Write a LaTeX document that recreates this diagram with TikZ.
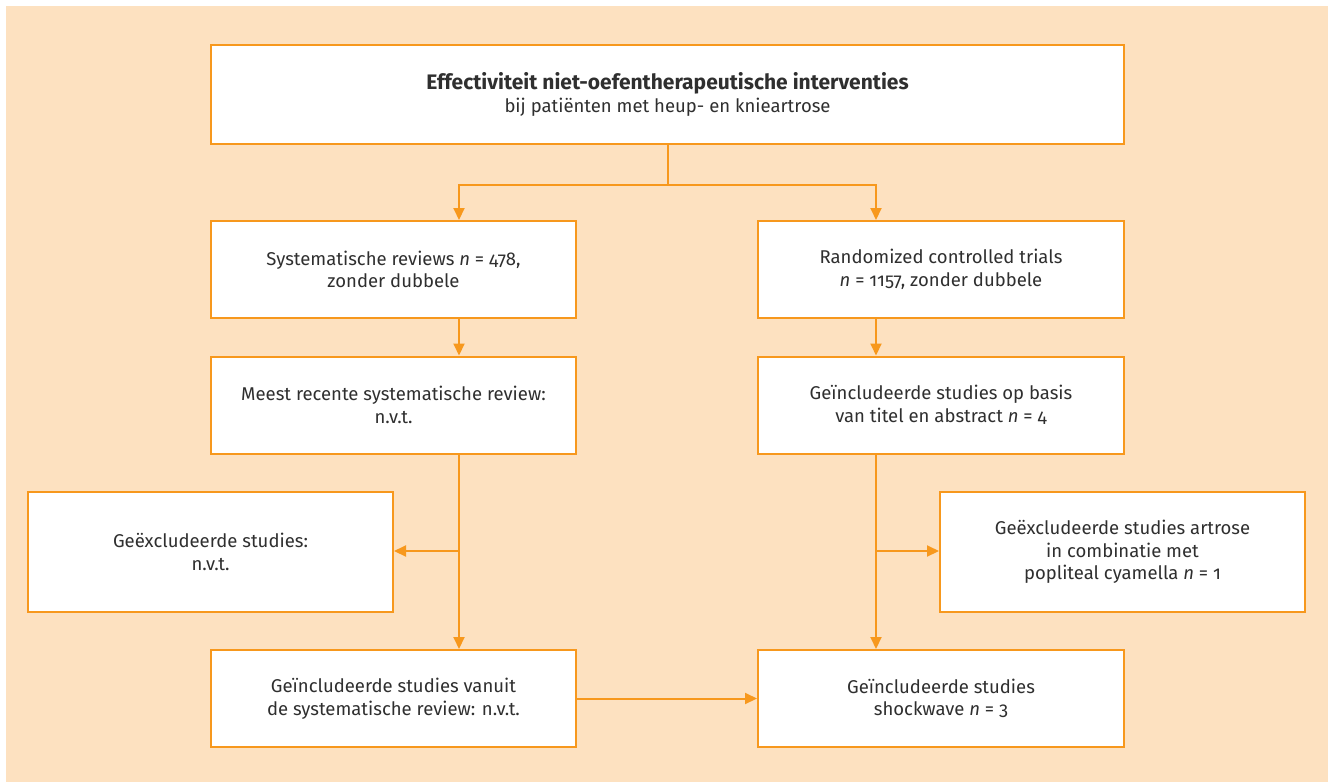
\documentclass[tikz,border=0pt]{standalone}
\usepackage{fontspec}
\setmainfont{Fira Sans}[Numbers=OldStyle]
\usetikzlibrary{arrows.meta}
\definecolor{flowline}{HTML}{F7981D}
\definecolor{panel}{HTML}{FDE1C0}
\definecolor{ink}{HTML}{2F2F2F}
\tikzset{
  flowbox/.style={draw=flowline, line width=2pt, fill=white, rectangle,
    align=center, text=ink, inner sep=0pt,
    font=\fontsize{18.5}{22.5}\selectfont},
  flowarrow/.style={draw=flowline, line width=2pt,
    -{Triangle[length=12pt,width=11pt]}},
  flowlink/.style={draw=flowline, line width=2pt},
}
\begin{document}
\begin{tikzpicture}[x=1pt,y=-1pt]
\useasboundingbox (0,0) rectangle (1328,782);
\fill[panel] (6,6) rectangle (1328,782);

% main box
\node[flowbox, minimum width=913pt, minimum height=99pt] (top) at (667.5,94.5)
  {{\fontsize{21}{24}\selectfont\bfseries Effectiviteit niet-oefentherapeutische interventies}\\bij patiënten met heup- en knieartrose};

% left column
\node[flowbox, minimum width=365pt, minimum height=97pt] (sr) at (393.5,269.5)
  {Systematische reviews \textit{n} = 478,\\zonder dubbele};
\node[flowbox, minimum width=365pt, minimum height=97pt] (recent) at (393.5,405)
  {Meest recente systematische review:\\n.v.t.};
\node[flowbox, minimum width=365pt, minimum height=120pt] (exl) at (210.5,552)
  {Geëxcludeerde studies:\\n.v.t.};
\node[flowbox, minimum width=365pt, minimum height=97pt] (incl) at (393.5,698.5)
  {Geïncludeerde studies vanuit\\de systematische review: n.v.t.};

% right column
\node[flowbox, minimum width=366pt, minimum height=97pt] (rct) at (941,269.5)
  {Randomized controlled trials\\\textit{n} = 1157, zonder dubbele};
\node[flowbox, minimum width=366pt, minimum height=97pt] (title) at (941,405)
  {Geïncludeerde studies op basis\\van titel en abstract \textit{n} = 4};
\node[flowbox, minimum width=365pt, minimum height=120pt] (exr) at (1122.5,552)
  {Geëxcludeerde studies artrose\\in combinatie met\\popliteal cyamella \textit{n} = 1};
\node[flowbox, minimum width=366pt, minimum height=97pt] (incr) at (941,698.5)
  {Geïncludeerde studies\\shockwave \textit{n} = 3};

% column guides and branch points
\coordinate (colL) at (459,0);
\coordinate (colR) at (876,0);
\coordinate (split) at (668,185);
\coordinate (brL) at (459,551);
\coordinate (brR) at (876,551);

\draw[flowlink] (top.south -| split) -- (split);
\draw[flowarrow] (split) -| (sr.north -| colL);
\draw[flowarrow] (split) -| (rct.north -| colR);

\draw[flowarrow] (sr.south -| colL) -- (recent.north -| colL);
\draw[flowarrow] (rct.south -| colR) -- (title.north -| colR);

\draw[flowarrow] (recent.south -| colL) -- (incl.north -| colL);
\draw[flowarrow] (title.south -| colR) -- (incr.north -| colR);

\draw[flowarrow] (brL) -- (exl.east |- brL);
\draw[flowarrow] (brR) -- (exr.west |- brR);

\draw[flowarrow] (incl.east) -- (incr.west);
\end{tikzpicture}
\end{document}
